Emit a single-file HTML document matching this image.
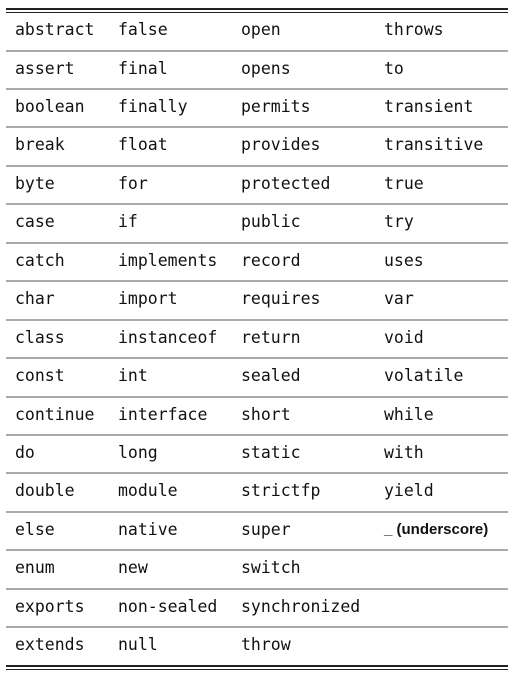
<!DOCTYPE html>
<html><head><style>
body{margin:0;width:518px;height:679px;background:#fff;position:relative;overflow:hidden;font-family:"DejaVu Sans Mono","Liberation Mono",monospace;font-size:16.5px;color:#111}
.l{position:absolute;left:6px;width:502px;height:2px;background:#aaa}
.r{position:absolute;left:0;width:518px;height:20px}
.r span{position:absolute;top:0;white-space:pre;line-height:20px}
.r span:nth-child(1){left:15px}.r span:nth-child(2){left:118px}.r span:nth-child(3){left:241px}.r span:nth-child(4){left:384px}
.u{font-family:"Liberation Sans","DejaVu Sans",sans-serif;font-weight:bold;font-size:15px}
</style></head><body>
<div class="l" style="top:8px;height:2px;background:#222"></div>
<div class="l" style="top:12px;height:1px;background:#222"></div>
<div class="l" style="top:665px;height:2px;background:#222"></div>
<div class="l" style="top:669px;height:1px;background:#222"></div>

<div class="l" style="top:49.5px"></div>
<div class="l" style="top:87.9px"></div>
<div class="l" style="top:126.4px"></div>
<div class="l" style="top:164.8px"></div>
<div class="l" style="top:203.3px"></div>
<div class="l" style="top:241.7px"></div>
<div class="l" style="top:280.2px"></div>
<div class="l" style="top:318.6px"></div>
<div class="l" style="top:357.1px"></div>
<div class="l" style="top:395.5px"></div>
<div class="l" style="top:434px"></div>
<div class="l" style="top:472.4px"></div>
<div class="l" style="top:510.9px"></div>
<div class="l" style="top:549.3px"></div>
<div class="l" style="top:587.8px"></div>
<div class="l" style="top:626.2px"></div>

<div class="r" style="top:20px"><span>abstract</span><span>false</span><span>open</span><span>throws</span></div>
<div class="r" style="top:58.5px"><span>assert</span><span>final</span><span>opens</span><span>to</span></div>
<div class="r" style="top:97px"><span>boolean</span><span>finally</span><span>permits</span><span>transient</span></div>
<div class="r" style="top:135.4px"><span>break</span><span>float</span><span>provides</span><span>transitive</span></div>
<div class="r" style="top:173.8px"><span>byte</span><span>for</span><span>protected</span><span>true</span></div>
<div class="r" style="top:212.3px"><span>case</span><span>if</span><span>public</span><span>try</span></div>
<div class="r" style="top:250.7px"><span>catch</span><span>implements</span><span>record</span><span>uses</span></div>
<div class="r" style="top:289.2px"><span>char</span><span>import</span><span>requires</span><span>var</span></div>
<div class="r" style="top:327.6px"><span>class</span><span>instanceof</span><span>return</span><span>void</span></div>
<div class="r" style="top:366.1px"><span>const</span><span>int</span><span>sealed</span><span>volatile</span></div>
<div class="r" style="top:404.5px"><span>continue</span><span>interface</span><span>short</span><span>while</span></div>
<div class="r" style="top:443px"><span>do</span><span>long</span><span>static</span><span>with</span></div>
<div class="r" style="top:481.4px"><span>double</span><span>module</span><span>strictfp</span><span>yield</span></div>
<div class="r" style="top:519.9px"><span>else</span><span>native</span><span>super</span><span class="u">_ (underscore)</span></div>
<div class="r" style="top:558.3px"><span>enum</span><span>new</span><span>switch</span></div>
<div class="r" style="top:596.8px"><span>exports</span><span>non-sealed</span><span>synchronized</span></div>
<div class="r" style="top:635.2px"><span>extends</span><span>null</span><span>throw</span></div>
</body></html>
